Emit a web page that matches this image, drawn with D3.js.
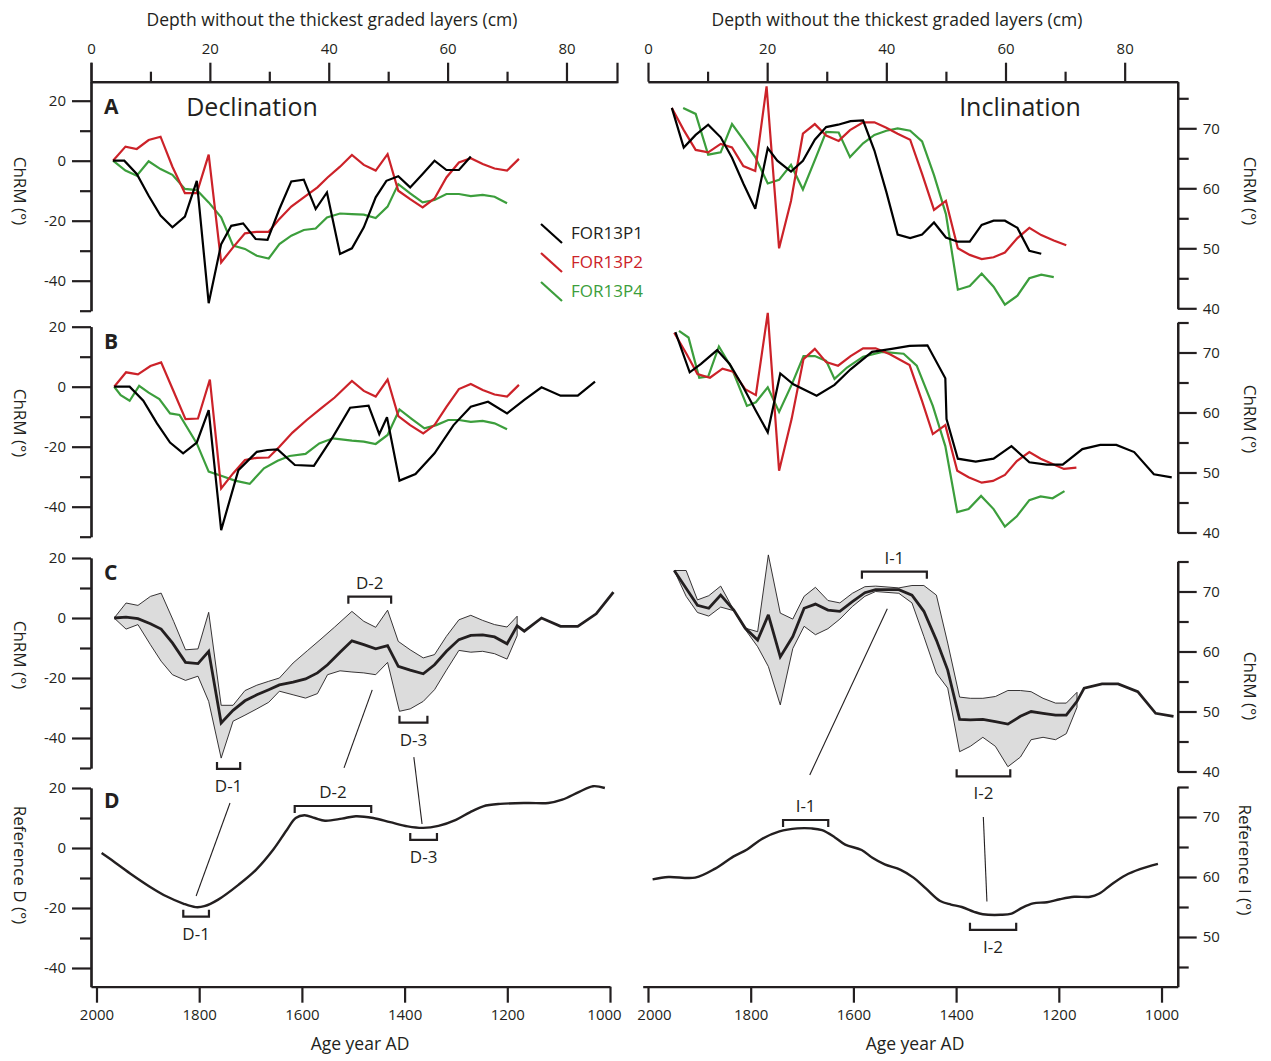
<!DOCTYPE html>
<html>
<head>
<meta charset="utf-8">
<script src="https://cdn.jsdelivr.net/npm/d3@7"></script>
<style>
  body { margin: 0; background: #ffffff; }
  svg text { font-family: "Open Sans", "Noto Sans", sans-serif; fill: #231f20; }
</style>
</head>
<body>
<div id="vis"></div>
<script>
// ---------- tick labels ----------
var depthTicks = [0, 20, 40, 60, 80];
var depthMinor = [10, 30, 50, 70];
var ageTicks = [2000, 1800, 1600, 1400, 1200, 1000];
var decTicks = [20, 0, -20, -40];
var decMinor = [10, -10, -30, -50];
var incTicks = [70, 60, 50, 40];
var incMinor = [75, 65, 55, 45];

var coreNames = ["FOR13P1", "FOR13P2", "FOR13P4"];
var coreColors = ["#000000", "#cc2229", "#3c9e3c"];

// ---------- Declination, panel A  [depth cm, deg] ----------
var decA_P1 = [[3.7,0],[5.6,0],[7.7,-4.4],[9.7,-11.7],[11.7,-18.3],[13.7,-22.2],[15.8,-18.6],[17.8,-6.7],[19.8,-47.5],[21.9,-27.8],[23.6,-21.7],[25.6,-20.9],[27.7,-26.1],[29.7,-26.4],[31.7,-16.1],[33.7,-6.9],[35.8,-6.3],[37.8,-16.1],[39.7,-10.6],[41.9,-31.1],[43.9,-29.2],[45.9,-22.2],[47.9,-12.2],[49.7,-6.7],[51.7,-5.2],[53.7,-8.9],[55.8,-4.4],[57.8,0],[59.8,-3.1],[61.9,-3.1],[63.9,1.4]];
var decA_P2 = [[3.7,0],[5.8,4.7],[7.7,3.9],[9.7,6.9],[11.7,8.0],[13.7,-2.0],[15.8,-10.8],[17.8,-10.8],[19.8,2.0],[21.9,-33.9],[23.9,-28.9],[25.9,-24.2],[27.9,-23.7],[29.9,-23.7],[31.7,-19.4],[33.7,-15.3],[35.8,-12.2],[38.1,-8.9],[39.8,-5.6],[41.9,-2.0],[43.9,1.9],[45.9,-1.4],[47.9,-3.3],[49.9,2.2],[51.7,-10.0],[53.7,-12.8],[55.8,-15.6],[57.8,-12.6],[59.8,-5.6],[61.9,-0.6],[63.9,0.8],[65.9,-1.1],[67.9,-2.6],[70.0,-3.3],[72.0,0.6]];
var decA_P4 = [[3.7,0],[5.8,-3.3],[7.7,-5.0],[9.7,-0.2],[11.7,-2.8],[13.7,-4.7],[15.8,-9.4],[17.8,-9.8],[19.8,-13.9],[21.9,-18.9],[23.9,-28.3],[25.9,-29.4],[27.9,-31.7],[29.9,-32.6],[31.7,-27.8],[33.7,-25.0],[35.8,-23.1],[37.8,-22.6],[39.7,-18.9],[41.9,-17.6],[43.9,-17.8],[45.9,-18.0],[47.9,-19.1],[49.9,-15.3],[51.7,-7.8],[53.7,-10.9],[55.8,-13.9],[57.8,-13.1],[59.8,-11.1],[61.9,-11.1],[63.9,-11.8],[65.9,-11.4],[67.9,-12.0],[70.0,-14.2]];

// ---------- Declination, panel B (aligned cores) ----------
var decB_P1 = [[3.9,0],[6.5,0],[8.8,-4.7],[11.1,-12.2],[13.3,-18.6],[15.5,-22.2],[17.8,-18.6],[19.8,-7.8],[21.9,-47.8],[24.8,-27.8],[27.9,-21.7],[29.7,-21.1],[31.4,-20.9],[34.3,-26.1],[37.5,-26.4],[40.7,-16.7],[43.6,-7.0],[46.7,-6.3],[48.5,-15.8],[49.8,-10.2],[51.9,-31.3],[54.6,-29.1],[57.8,-22.2],[61.0,-12.8],[63.9,-6.7],[66.8,-5.0],[70.0,-8.9],[72.9,-4.4],[75.8,-0.2],[79.0,-3.0],[81.9,-3.0],[84.8,1.7]];
var decB_P2 = [[3.9,0],[5.9,4.8],[7.9,4.1],[10.0,6.9],[11.8,8.1],[13.8,-1.1],[15.9,-10.8],[18.0,-10.6],[20.0,2.4],[21.9,-33.9],[23.9,-28.9],[25.9,-24.4],[27.9,-23.7],[29.9,-23.6],[31.7,-20.0],[33.9,-15.3],[36.3,-11.1],[38.7,-7.2],[41.0,-3.6],[43.9,1.9],[45.9,-1.4],[47.9,-3.3],[49.9,2.4],[51.7,-9.8],[53.7,-12.8],[55.9,-15.6],[57.8,-12.8],[59.8,-6.7],[61.9,-0.8],[63.9,0.9],[65.9,-1.1],[67.9,-2.6],[70.0,-3.3],[72.0,0.6]];
var decB_P4 = [[3.9,0],[5.0,-2.8],[6.5,-4.7],[8.1,0.3],[9.7,-2.0],[11.5,-4.1],[13.3,-8.9],[14.9,-9.4],[17.8,-18.9],[19.8,-28.3],[21.9,-29.7],[24.2,-31.3],[26.7,-32.4],[29.1,-27.2],[31.4,-24.7],[33.4,-23.1],[36.1,-22.4],[38.4,-18.9],[40.7,-17.2],[43.9,-18.0],[45.9,-18.3],[47.9,-19.1],[49.9,-16.1],[51.9,-7.6],[54.0,-10.8],[56.1,-13.9],[58.1,-12.8],[60.1,-11.1],[61.9,-11.1],[63.9,-11.7],[65.9,-11.4],[67.9,-12.2],[70.0,-14.2]];

// ---------- Declination, panel C (stack + envelope) ----------
var decC_mean = [[3.9,0],[5.9,0.3],[7.9,-0.2],[10.0,-1.9],[11.8,-3.7],[13.7,-8.3],[15.9,-14.8],[18.0,-15.2],[19.8,-11.1],[21.9,-35.0],[23.9,-30.8],[25.9,-27.6],[27.9,-25.6],[29.9,-23.9],[31.7,-22.3],[34.0,-21.4],[36.1,-20.3],[38.1,-18.3],[39.8,-15.6],[41.9,-11.4],[43.9,-7.6],[45.9,-8.9],[47.9,-10.3],[49.9,-9.2],[51.7,-16.1],[53.7,-17.4],[55.9,-18.6],[57.8,-15.6],[59.8,-11.1],[61.9,-7.2],[63.9,-5.8],[65.9,-5.6],[67.9,-6.3],[70.0,-8.6],[71.7,-2.6],[72.9,-4.4],[75.8,0],[79.0,-2.8],[81.9,-2.8],[85.0,1.4],[87.9,8.6]];
var decC_upper = [[3.9,0],[5.9,5.0],[7.9,4.2],[10.0,7.2],[11.8,8.3],[13.9,-1.1],[15.9,-10.6],[18.0,-10.3],[19.8,1.9],[21.9,-29.1],[23.9,-29.1],[25.9,-24.2],[27.9,-22.4],[29.9,-21.1],[31.7,-20.0],[34.0,-15.0],[36.4,-10.9],[38.7,-7.0],[41.0,-3.0],[43.9,2.2],[45.9,-1.1],[47.9,-3.1],[49.9,2.6],[51.7,-7.8],[53.7,-10.6],[55.9,-13.3],[57.8,-12.2],[59.8,-6.1],[61.9,-0.6],[63.9,0.9],[65.9,-0.8],[67.9,-2.2],[70.0,-3.0],[71.7,0.6]];
var decC_lower = [[3.9,0],[5.9,-3.7],[7.9,-2.2],[10.0,-8.9],[11.8,-14.4],[13.7,-18.9],[15.9,-20.8],[18.0,-19.4],[19.8,-27.8],[21.9,-46.7],[23.9,-34.4],[25.9,-32.4],[27.9,-30.3],[29.9,-28.1],[31.7,-24.4],[34.0,-25.6],[36.1,-26.7],[38.1,-25.2],[39.8,-18.9],[41.9,-17.6],[43.9,-18.0],[45.9,-18.3],[47.9,-18.9],[49.9,-14.8],[51.9,-31.1],[53.7,-30.3],[55.9,-27.8],[57.8,-23.9],[59.8,-17.4],[61.9,-10.8],[63.9,-11.4],[65.9,-11.1],[67.9,-11.9],[70.0,-13.7],[71.7,-5.9]];

// ---------- Reference declination, panel D  [year AD, deg] ----------
var decRef = [[1990,-1.7],[1964,-4.8],[1931,-8.9],[1897,-12.8],[1864,-16.1],[1830,-18.6],[1807,-19.7],[1790,-19.4],[1763,-17.2],[1723,-12.2],[1689,-7.2],[1656,-0.6],[1629,6.1],[1612,10.0],[1595,10.9],[1575,10.0],[1555,9.1],[1522,9.8],[1495,10.6],[1461,10.0],[1428,8.6],[1394,7.2],[1364,6.7],[1334,7.4],[1300,9.4],[1273,11.9],[1247,13.9],[1214,14.7],[1160,15.0],[1120,15.0],[1093,16.1],[1060,18.7],[1033,20.6],[1010,20.0]];

// ---------- Inclination, panel A ----------
var incA_P1 = [[4.0,73.4],[6.0,66.8],[8.0,68.9],[10.1,70.6],[12.2,68.5],[14.1,65.1],[16.0,60.8],[18.0,56.6],[20.1,66.7],[21.7,64.6],[24.0,62.8],[26.0,64.6],[28.0,68.1],[29.9,70.2],[31.9,70.6],[34.0,71.2],[36.1,71.3],[38.0,66.3],[40.0,59.4],[41.9,52.3],[44.0,51.7],[46.0,52.3],[48.0,54.3],[50.0,51.8],[52.0,51.1],[54.0,51.1],[56.0,53.9],[58.0,54.6],[59.9,54.6],[62.0,53.4],[64.0,49.6],[66.0,49.1]];
var incA_P2 = [[4.0,73.4],[6.0,69.7],[8.0,66.4],[10.1,66.0],[12.2,67.4],[14.1,66.8],[16.0,63.7],[18.0,62.9],[19.9,77.0],[22.0,50.0],[24.0,57.9],[26.0,69.1],[28.0,70.7],[29.9,68.8],[32.0,67.9],[33.9,69.7],[36.1,71.0],[38.0,71.0],[40.0,70.1],[41.9,69.1],[44.0,68.1],[46.0,62.4],[48.0,56.4],[50.0,57.9],[52.0,50.0],[54.0,48.9],[56.0,48.2],[58.0,48.5],[59.9,49.3],[62.0,51.7],[64.0,53.4],[66.0,52.2],[68.1,51.3],[70.2,50.5]];
var incA_P4 = [[5.9,73.4],[8.0,72.4],[10.1,65.6],[12.2,66.0],[14.1,70.7],[16.0,68.1],[18.0,65.2],[20.1,60.8],[22.0,61.4],[24.0,63.9],[26.0,59.8],[28.0,64.7],[29.9,69.4],[32.0,69.3],[33.9,65.2],[36.1,67.5],[38.0,68.9],[40.0,69.6],[41.9,70.0],[44.0,69.6],[46.0,67.8],[48.0,62.2],[50.0,55.7],[52.0,43.1],[54.0,43.7],[56.0,45.8],[58.0,43.6],[59.9,40.6],[62.0,42.1],[64.0,45.0],[66.0,45.6],[68.1,45.2]];

// ---------- Inclination, panel B ----------
var incB_P1 = [[4.6,73.4],[7.0,66.7],[8.9,68.1],[11.6,70.4],[13.7,68.1],[16.0,64.2],[18.1,60.3],[20.1,56.7],[22.2,66.5],[24.4,64.7],[28.3,62.8],[31.3,64.6],[34.0,67.2],[37.6,70.1],[40.9,70.6],[43.9,71.1],[46.9,71.2],[49.9,65.7],[50.1,58.9],[52.0,52.3],[55.0,51.8],[58.0,52.3],[61.0,54.4],[64.0,51.7],[66.9,51.3],[69.6,51.3],[72.9,53.9],[75.9,54.6],[78.6,54.6],[81.6,53.4],[84.9,49.7],[87.9,49.2]];
var incB_P2 = [[4.4,73.3],[6.5,69.7],[8.3,66.4],[10.4,65.8],[12.5,67.3],[14.3,66.8],[16.3,63.9],[18.1,62.9],[20.1,76.6],[22.0,50.3],[24.1,58.9],[26.1,68.9],[28.0,70.6],[29.9,68.4],[31.9,67.8],[34.0,69.4],[36.1,70.7],[38.2,70.7],[40.6,69.7],[43.9,67.9],[46.0,61.9],[47.8,56.4],[49.9,57.9],[51.9,50.3],[53.8,49.2],[56.0,48.3],[57.9,48.6],[59.9,49.6],[61.9,51.9],[64.0,53.4],[65.9,52.3],[67.9,51.4],[69.8,50.6],[71.9,50.8]];
var incB_P4 = [[5.2,73.6],[6.8,72.5],[8.6,65.8],[10.1,66.0],[11.9,71.0],[14.0,67.5],[16.6,61.1],[18.1,61.7],[20.1,64.2],[22.0,60.1],[24.1,64.6],[26.1,69.4],[28.0,69.4],[29.9,68.6],[31.3,65.6],[33.4,67.5],[36.1,69.3],[39.3,70.1],[42.9,69.8],[45.1,67.8],[47.8,61.1],[49.9,54.4],[51.9,43.4],[53.8,43.9],[55.9,46.1],[58.0,43.9],[59.9,41.0],[61.9,42.7],[64.0,45.4],[65.9,46.0],[67.9,45.7],[69.9,46.9]];

// ---------- Inclination, panel C ----------
var incC_mean = [[4.4,73.5],[8.3,67.7],[10.2,67.2],[12.2,69.4],[14.4,66.9],[16.3,63.9],[18.4,61.9],[20.2,66.1],[22.2,59.1],[24.3,62.5],[26.2,67.2],[28.1,67.9],[30.2,66.9],[32.2,66.7],[34.3,68.3],[36.4,69.8],[38.2,70.3],[42.1,70.3],[44.3,69.4],[46.3,66.7],[48.4,61.9],[50.3,56.9],[52.3,48.7],[54.1,48.6],[56.2,48.7],[58.3,48.3],[60.4,47.9],[62.5,49.2],[64.3,50.0],[66.3,49.7],[68.4,49.4],[70.2,49.4],[72.0,51.7],[73.2,53.9],[76.2,54.6],[78.9,54.6],[82.2,53.3],[85.2,49.7],[88.2,49.2]];
var incC_upper = [[4.4,73.5],[6.4,73.5],[8.3,68.6],[10.2,69.3],[12.2,70.9],[14.4,66.9],[16.3,63.9],[18.4,63.3],[20.2,76.1],[22.2,66.4],[24.3,65.4],[26.2,69.2],[28.1,70.7],[30.2,68.5],[32.2,68.1],[34.3,69.7],[36.4,70.8],[38.2,70.9],[42.1,70.6],[44.3,71.0],[46.3,71.0],[48.4,69.4],[50.3,61.4],[52.3,52.4],[54.1,52.2],[56.2,52.2],[58.3,52.5],[60.4,53.5],[62.5,53.5],[64.3,53.3],[66.3,52.2],[68.4,51.4],[70.2,51.4],[72.0,53.2]];
var incC_lower = [[4.4,73.5],[6.4,69.2],[8.3,66.5],[10.2,65.9],[12.2,67.4],[14.4,66.8],[16.3,63.7],[18.4,60.8],[20.2,57.5],[22.2,51.1],[24.3,60.5],[26.2,64.2],[28.1,62.8],[30.2,63.8],[32.2,65.4],[34.3,67.5],[36.4,69.2],[38.2,70.0],[42.1,69.7],[44.3,68.1],[46.3,62.5],[48.4,56.4],[50.3,53.9],[52.3,43.3],[54.1,44.2],[56.2,45.7],[58.3,44.2],[60.4,40.8],[62.5,42.4],[64.3,45.3],[66.3,45.7],[68.4,45.3],[70.2,46.3],[72.0,50.7]];

// ---------- Reference inclination, panel D  [year AD, deg] ----------
var incRef = [[1991,59.6],[1960,60.0],[1908,59.9],[1869,61.4],[1834,63.4],[1807,64.6],[1779,66.3],[1744,67.6],[1709,68.1],[1682,68.1],[1661,67.8],[1636,66.6],[1616,65.4],[1584,64.5],[1563,63.2],[1539,62.1],[1508,61.2],[1483,59.9],[1459,58.1],[1431,56.0],[1410,55.4],[1389,55.0],[1365,54.2],[1348,53.8],[1313,53.7],[1292,53.9],[1271,54.9],[1250,55.6],[1223,55.8],[1198,56.3],[1170,56.7],[1139,56.7],[1122,57.2],[1097,58.8],[1070,60.3],[1042,61.3],[1007,62.2]];

// ---------- feature brackets: [label, x0, x1, value, opens] ----------
var decBracketsC = [["D-2", 43.3, 50.5, 7.1, "down"], ["D-3", 51.9, 56.6, -34.9, "up"], ["D-1", 21.2, 25.1, -50.3, "up"]];
var decBracketsD = [["D-1", 1831, 1781, -22.9, "up"], ["D-2", 1614, 1465, 14.0, "down"], ["D-3", 1389, 1337, 2.7, "up"]];
var incBracketsC = [["I-1", 35.9, 46.8, 73.3, "down"], ["I-2", 51.8, 60.8, 39.2, "up"]];
var incBracketsD = [["I-1", 1737, 1649, 69.5, "down"], ["I-2", 1373, 1283, 51.2, "up"]];
// tie lines between stack (C) and reference (D), in reference units [year, value]
var decTies = [[[1740, 15.0], [1806, -16.0]], [[1463, 52.7], [1518, 26.7]], [[1382, 30.3], [1366, 8.0]]];
var incTies = [[[1534, 104.7], [1685, 77.0]], [[1347, 70.0], [1340, 55.9]]];

// ================= drawing =================
var FONT = '"Open Sans", "Noto Sans", sans-serif';
var INK = "#231f20";

var svg = d3.select("#vis").append("svg").attr("width", 1271).attr("height", 1061);

// column x scales (top axis in depth, bottom axis in age)
var depthL = d3.scaleLinear().domain([0, 88.5]).range([91, 617]);
var ageL = d3.scaleLinear().domain([2010.7, 1000]).range([91, 610]);
var depthR = d3.scaleLinear().domain([0, 88.9]).range([648, 1177.7]);
var ageR = d3.scaleLinear().domain([2010.3, 968.5]).range([642.7, 1177.7]);

// y scale helper: value v0 sits at pixel y0, px pixels per degree, spine from lo to hi
function yScale(v0, y0, px, lo, hi) {
  return d3.scaleLinear().domain([lo, hi]).range([y0 + (v0 - lo) * px, y0 - (hi - v0) * px]);
}
var yDecA = yScale(0, 160.7, 3, -50, 26.33);
var yDecB = yScale(0, 386.7, 3, -50, 20);
var yDecC = yScale(0, 618, 3, -50, 20);
var yDecD = yScale(0, 848, 3, -46.23, 20);
var yIncA = yScale(70, 128.3, 6, 40, 77.77);
var yIncB = yScale(70, 352.5, 6, 40, 75);
var yIncC = yScale(70, 591.5, 6, 40, 75);
var yIncD = yScale(70, 817, 6, 41.72, 75);

// plain hyphen for negatives, as in the figure
var plain = (d) => String(d);

function styleAxis(g) {
  g.select(".domain").attr("stroke", INK).attr("stroke-width", 2.2);
  g.selectAll(".tick line").attr("stroke", INK).attr("stroke-width", 2.2);
  g.selectAll("text").attr("font-family", FONT).attr("font-size", 15).attr("fill", INK);
}

// y axis: minor ticks short, major ticks long with labels
function yAxis(scale, x, orient, major, minor) {
  var dom = scale.domain();
  var inside = (v) => v >= dom[0] - 1e-6 && v <= dom[1] + 1e-6;
  var make = orient == "left" ? d3.axisLeft : d3.axisRight;
  svg.append("g")
    .attr("transform", `translate(${x},0)`)
    .call(make(scale).tickValues(minor.filter(inside)).tickSize(11).tickSizeOuter(0).tickFormat(""))
    .call(styleAxis);
  svg.append("g")
    .attr("transform", `translate(${x},0)`)
    .call(make(scale).tickValues(major.filter(inside)).tickSize(19).tickSizeOuter(0).tickPadding(6).tickFormat(plain))
    .call(styleAxis);
}
[yDecA, yDecB, yDecC, yDecD].forEach((s) => yAxis(s, 91, "left", decTicks, decMinor));
[yIncA, yIncB, yIncC, yIncD].forEach((s) => yAxis(s, 1177.7, "right", incTicks, incMinor));

// top depth axes
function topAxis(scale, outer) {
  svg.append("g")
    .attr("transform", "translate(0,81.7)")
    .call(d3.axisTop(scale).tickValues(depthMinor).tickSize(10).tickSizeOuter(0).tickFormat(""))
    .call(styleAxis);
  svg.append("g")
    .attr("transform", "translate(0,81.7)")
    .call(d3.axisTop(scale).tickValues(depthTicks).tickSize(19).tickSizeOuter(outer).tickPadding(9).tickFormat(plain))
    .call(styleAxis);
}
topAxis(depthL, 19);
topAxis(depthR, 0);

// bottom age axes; the two labels meeting in the middle are nudged apart
[[ageL, 1000, -6], [ageR, 2000, 6]].forEach((a) => {
  svg.append("g")
    .attr("transform", "translate(0,986.7)")
    .call(d3.axisBottom(a[0]).tickValues(ageTicks).tickSize(16).tickSizeOuter(0).tickPadding(7).tickFormat(plain))
    .call(styleAxis)
    .selectAll(".tick text")
    .attr("dx", (d) => (d == a[1] ? a[2] : 0));
});

// ---------- curves ----------
function drawLine(data, xs, ys, color, width, curve) {
  var line = d3.line().x((d) => xs(d[0])).y((d) => ys(d[1]));
  if (curve) line.curve(curve);
  svg.append("path")
    .datum(data)
    .attr("d", line)
    .attr("fill", "none")
    .attr("stroke", color)
    .attr("stroke-width", width)
    .attr("stroke-linejoin", "miter")
    .attr("stroke-miterlimit", 3);
}
function drawEnvelope(upper, lower, xs, ys) {
  var poly = upper.concat(lower.slice().reverse());
  svg.append("path")
    .attr("d", d3.line().x((d) => xs(d[0])).y((d) => ys(d[1]))(poly) + "Z")
    .attr("fill", "#dcdcdc")
    .attr("stroke", INK)
    .attr("stroke-width", 0.9);
}

// panel A and B core curves (green drawn first, black on top)
var coreSets = [
  [[decA_P4, decA_P2, decA_P1], depthL, yDecA],
  [[decB_P4, decB_P2, decB_P1], depthL, yDecB],
  [[incA_P4, incA_P2, incA_P1], depthR, yIncA],
  [[incB_P4, incB_P2, incB_P1], depthR, yIncB],
];
coreSets.forEach((set) => {
  var order = [2, 1, 0];
  set[0].forEach((data, i) => drawLine(data, set[1], set[2], coreColors[order[i]], 2.2));
});

// panel C stacks
drawEnvelope(decC_upper, decC_lower, depthL, yDecC);
drawLine(decC_mean, depthL, yDecC, INK, 2.8);
drawEnvelope(incC_upper, incC_lower, depthR, yIncC);
drawLine(incC_mean, depthR, yIncC, INK, 2.8);

// panel D references
drawLine(decRef, ageL, yDecD, INK, 2.4, d3.curveCatmullRom);
drawLine(incRef, ageR, yIncD, INK, 2.4, d3.curveCatmullRom);

// ---------- brackets and tie lines ----------
function drawBrackets(list, xs, ys) {
  list.forEach((b) => {
    var x0 = xs(b[1]), x1 = xs(b[2]), y = ys(b[3]);
    var h = b[4] == "down" ? 7 : -7;
    svg.append("path")
      .attr("d", `M${x0},${y + h}V${y}H${x1}V${y + h}`)
      .attr("fill", "none")
      .attr("stroke", INK)
      .attr("stroke-width", 2.2);
    svg.append("text")
      .attr("x", (x0 + x1) / 2)
      .attr("y", b[4] == "down" ? y - 8 : y + 23)
      .attr("text-anchor", "middle")
      .attr("font-size", 17)
      .text(b[0]);
  });
}
drawBrackets(decBracketsC, depthL, yDecC);
drawBrackets(decBracketsD, ageL, yDecD);
drawBrackets(incBracketsC, depthR, yIncC);
drawBrackets(incBracketsD, ageR, yIncD);

function drawTies(list, xs, ys) {
  list.forEach((t) => {
    svg.append("line")
      .attr("x1", xs(t[0][0])).attr("y1", ys(t[0][1]))
      .attr("x2", xs(t[1][0])).attr("y2", ys(t[1][1]))
      .attr("stroke", INK)
      .attr("stroke-width", 1.1);
  });
}
drawTies(decTies, ageL, yDecD);
drawTies(incTies, ageR, yIncD);

// ---------- legend ----------
coreNames.forEach((name, i) => {
  var y = 224 + i * 29;
  svg.append("line")
    .attr("x1", 541).attr("y1", y).attr("x2", 562).attr("y2", y + 19)
    .attr("stroke", coreColors[i]).attr("stroke-width", 2.2);
  svg.append("text")
    .attr("x", 571).attr("y", y + 15)
    .attr("font-size", 17)
    .style("fill", coreColors[i] == "#000000" ? INK : coreColors[i])
    .text(name);
});

// ---------- titles and labels ----------
function label(text, x, y, size, rotate, weight) {
  svg.append("text")
    .attr("transform", `translate(${x},${y})` + (rotate ? ` rotate(${rotate})` : ""))
    .attr("text-anchor", "middle")
    .attr("dominant-baseline", "central")
    .attr("font-size", size)
    .attr("font-weight", weight || "normal")
    .text(text);
}
label("Depth without the thickest graded layers (cm)", 332, 19, 17.5);
label("Depth without the thickest graded layers (cm)", 897, 19, 17.5);
label("Age year AD", 360, 1043, 17.5);
label("Age year AD", 915, 1043, 17.5);
label("Declination", 252, 106, 25);
label("Inclination", 1020, 106, 25);

[["A", 106], ["B", 341], ["C", 572], ["D", 800]].forEach((p) => {
  svg.append("text")
    .attr("x", 104).attr("y", p[1] + 8)
    .attr("font-size", 21)
    .attr("font-weight", "bold")
    .text(p[0]);
});

label("ChRM (°)", 20, 191, 17, 90);
label("ChRM (°)", 20, 423, 17, 90);
label("ChRM (°)", 20, 655, 17, 90);
label("Reference D (°)", 20, 865, 17, 90);
label("ChRM (°)", 1250, 191, 17, 90);
label("ChRM (°)", 1250, 419, 17, 90);
label("ChRM (°)", 1250, 686, 17, 90);
label("Reference I (°)", 1245, 860, 17, 90);
</script>
</body>
</html>
